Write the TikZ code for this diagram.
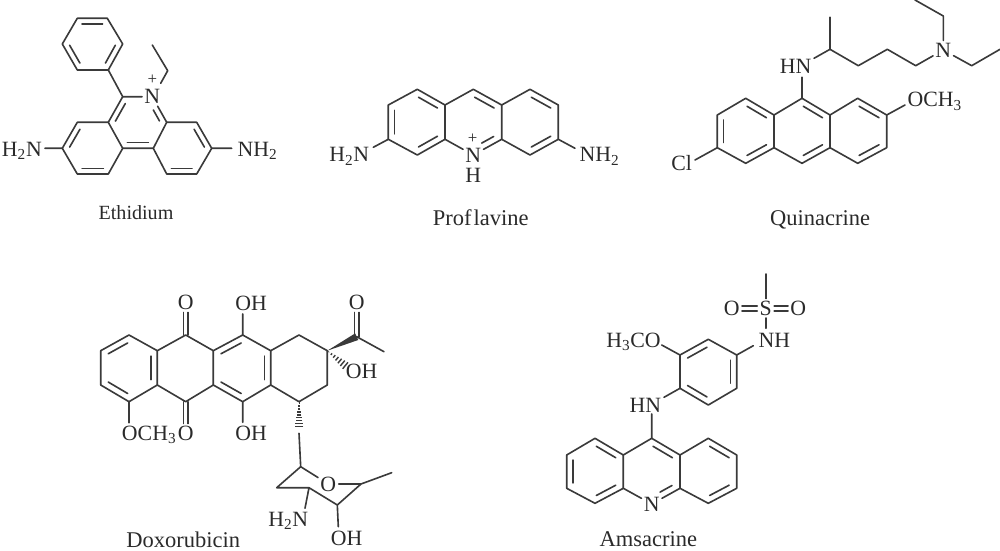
\documentclass[tikz,border=0pt]{standalone}
\usepackage{fontspec}
\setmainfont{Liberation Serif}
\usetikzlibrary{calc}
\definecolor{ink}{HTML}{3A3A3A}
\definecolor{tink}{HTML}{2A2A2A}
\tikzset{
  bondline/.style={draw=ink,line width=1.15pt,line cap=round,line join=round},
  hashline/.style={draw=ink,line width=1pt},
  atom/.style={inner sep=1.5pt,text=tink,font=\fontsize{15.5}{16}\selectfont},
  grp/.style={inner sep=0pt,anchor=base west,text=tink,font=\fontsize{15.5}{16}\selectfont},
  plus/.style={inner sep=0pt,text=tink,font=\fontsize{12}{12}\selectfont},
  caption/.style={inner sep=0pt,anchor=base,text=tink,font=\fontsize{16}{16}\selectfont}
}
\newcommand\subn[1]{\textsubscript{#1}}
\newcommand\inbx[5]{\draw[bondline] ($($(#1)!#4!(#2)$)!.22!(#3)$) -- ($($(#1)!#5!(#2)$)!.22!(#3)$);}
\newcommand\inb[3]{\inbx{#1}{#2}{#3}{.06}{.94}}
\newcommand\twin[4]{\draw[bondline] ($(#1)+(#3,#4)$) -- ($(#2)+(#3,#4)$) ($(#1)-(#3,#4)$) -- ($(#2)-(#3,#4)$);}
\newcommand\hashb[4]{\foreach \i in {1,...,#3}{%
  \pgfmathsetmacro\f{(\i-.5)/#3}\pgfmathsetmacro\hw{#4*\f}%
  \path ($(#1)!\f!(#2)$) coordinate (hp);
  \draw[hashline] ($(hp)!\hw pt!90:(#2)$) -- ($(hp)!\hw pt!-90:(#2)$);}}
\begin{document}
\begin{tikzpicture}[x=0.025cm,y=-0.025cm]
\useasboundingbox (0,0) rectangle (1000,551);
% ---------- Ethidium
\foreach \n/\x/\y in {p1/77.3/18.3,p2/107.3/18.3,p3/122.7/44,p4/108.3/70,p5/77.3/70,p6/62.3/44,pc/92.3/44,
  ec6/122.7/96.7,ea/108.3/122.3,eb/77.3/122.3,ec/62.3/148.3,ed/77.3/174,ee/108.3/174,ef/122.7/148.3,
  eg/153.3/148.3,eh/166.7/122.3,ei/196.7/122.3,ej/211.7/148.3,ek/196.7/174,el/166.7/174,
  elc/92.5/148.3,emc/137.5/122.5,erc/181.7/148.3,
  ee1/160.7/83.3,ee2/167.7/70.7,ee3/152.3/45,
  en1/45/148.3,en2/231.7/148.3}{\coordinate (\n) at (\x,\y);}
\node[atom] (eN) at (152.3,96.7) {N};
\node[plus] (ep) at (152.3,80) {+};
\node[grp] (eH2N) at (1.7,156.7) {H\subn{2}N};
\node[grp] (eNH2) at (237.3,156.7) {NH\subn{2}};
\node[caption,font=\fontsize{14.3}{15}\selectfont] (ecap) at (136,219.5) {Ethidium};
\draw[bondline] (p1)--(p2)--(p3)--(p4)--(p5)--(p6)--cycle;
\inb{p1}{p2}{pc}\inb{p3}{p4}{pc}\inb{p5}{p6}{pc}
\draw[bondline] (p4)--(ec6)--(eN) (ec6)--(ea)--(eb)--(ec)--(ed)--(ee)--(ef)--(ea) (ef)--(eg)--(eh)--(ei)--(ej)--(ek)--(el)--(eg) (eN)--(eh);
\draw[bondline] (ee1)--(ee2)--(ee3) (en1)--(ec) (ej)--(en2);
\inb{ec6}{ea}{emc}\inb{eb}{ec}{elc}\inb{ed}{ee}{elc}\inb{ef}{eg}{emc}\inb{ei}{ej}{erc}\inb{ek}{el}{erc}
\inbx{eN}{eh}{emc}{.38}{.93}
% ---------- Proflavine
\foreach \n/\x/\y in {fa/388.3/105,fb/417.3/89.3,fc/445/105,fd/473.3/89.3,fe/501.7/105,ff/530/89.3,fg/558.3/105,
  fh/558.3/139.3,fi/530/155,fj/501.7/139.3,fk/445/139.3,fl/417.3/155,fm/388.3/139.3,
  flc/416.7/122,fmc/473.3/122,frc/530/122,fn1/373.3/147.3,fn2/575/148.3}{\coordinate (\n) at (\x,\y);}
\node[atom] (fN) at (473.3,155) {N};
\node[plus] (fp) at (472.7,138.3) {+};
\node[atom] (fH) at (473.3,175.7) {H};
\node[grp] (fH2N) at (329,162) {H\subn{2}N};
\node[grp] (fNH2) at (579.3,162) {NH\subn{2}};
\node[caption] (fcap) at (480.7,226) {Prof\kern1.5pt lavine};
\draw[bondline] (fa)--(fb)--(fc)--(fd)--(fe)--(ff)--(fg)--(fh)--(fi)--(fj)--(fe) (fc)--(fk)--(fl)--(fm)--(fa) (fk)--(fN) (fj)--(fN) (fn1)--(fm) (fh)--(fn2);
\inb{fa}{fm}{flc}\inb{fb}{fc}{flc}\inb{fl}{fk}{flc}\inb{fd}{fe}{fmc}\inb{ff}{fg}{frc}\inb{fi}{fh}{frc}
\inbx{fN}{fj}{fmc}{.38}{.92}
% ---------- Quinacrine
\foreach \n/\x/\y in {qa/717.3/115,qb/745.7/98.3,qc/774/115,qd/802/98.3,qe/830/115,qf/857.7/98.3,qg/886.7/115,
  qh/886.7/147.7,qi/857.7/163.3,qj/830/147.7,qk/802/163.3,ql/774/147.7,qm/745.7/163.3,qn/717.3/147.7,
  qlc/745.7/131,qmc/802/131,qrc/858/131,
  qx1/695/160,qx2/802/77.3,qx3/814/58.3,qx4/830/49.3,qx5/858.3/65.7,qx6/887.3/49.3,qx7/915.7/65.7,
  qme/830/17.3,qu2/943.3/16,qu3/915/0,qr2/971.7/65.7,qr3/1000/49.3,qo/905/105}{\coordinate (\n) at (\x,\y);}
\node[atom] (qN) at (943.3,50) {N};
\node[grp] (qCl) at (671,171) {Cl};
\node[grp] (qHN) at (779.5,73.7) {HN};
\node[grp] (qOMe) at (907.3,107) {OCH\subn{3}};
\node[caption] (qcap) at (820,226) {Quinacrine};
\draw[bondline] (qa)--(qb)--(qc)--(qd)--(qe)--(qf)--(qg)--(qh)--(qi)--(qj)--(qk)--(ql)--(qm)--(qn)--(qa) (qc)--(ql) (qe)--(qj);
\draw[bondline] (qx1)--(qn) (qd)--(qx2) (qx3)--(qx4)--(qx5)--(qx6)--(qx7)--(qN) (qx4)--(qme) (qN)--(qu2)--(qu3) (qN)--(qr2)--(qr3) (qg)--(qo);
\inb{qa}{qn}{qlc}\inb{qb}{qc}{qlc}\inb{qm}{ql}{qlc}\inb{qd}{qe}{qmc}\inb{qk}{qj}{qmc}\inb{qf}{qg}{qrc}\inb{qi}{qh}{qrc}
% ---------- Doxorubicin
\foreach \n/\x/\y in {da/100.7/350.7,db/129/335,dc/157.3/350.7,dd/157.3/385,de/129/401.7,df/100.7/385,
  dg/185.7/335,dh/213.3/350.7,di/213.3/385,dj/185.7/401.7,dk/242.7/335,dl/270.7/350.7,dm/270.7/385,dn/242.7/401.7,
  dp/299/335,dq/327.3/350.7,dr/327.3/385,ds/299/401.7,
  dlc/129/368,dc2/185.7/368,dmc/242/368,
  dacC/356.7/336.7,dacM/384/351.7,dohT/242.7/314,dohB/242.7/422.3,dome/129/422.7,
  dhash/346.7/366.7,dhd/299/428,dlk/299/433.3,
  sa/300.7/466.7,sb/276.7/487.7,sc/309/487.7,sd/337.3/505,se/361/484,sf/391.7/472.7,
  sn/305/508.3,soh/338.3/526.7}{\coordinate (\n) at (\x,\y);}
\node[atom] (dO1) at (185.7,302.7) {O};
\node[atom] (dO2) at (185.7,433.3) {O};
\node[atom] (dO3) at (356.7,302.7) {O};
\node[atom] (sO) at (328.3,484) {O};
\node[grp] (dOH1) at (235,310.3) {OH};
\node[grp] (dOH2) at (235,440.3) {OH};
\node[grp] (dOH3) at (345.7,378.7) {OH};
\node[grp] (dOMe) at (121.7,440.3) {OCH\subn{3}};
\node[grp] (sH2N) at (268,526.3) {H\subn{2}N};
\node[grp] (sOH) at (330.7,545.3) {OH};
\node[caption] (dcap) at (183.3,547.5) {Doxorubicin};
\draw[bondline] (da)--(db)--(dc)--(dd)--(de)--(df)--cycle (dc)--(dg)--(dh)--(di)--(dj)--(dd) (dh)--(dk)--(dl)--(dm)--(dn)--(di) (dl)--(dp)--(dq)--(dr)--(ds)--(dm);
\inb{da}{db}{dlc}\inb{df}{de}{dlc}\inb{dc}{dd}{dlc}\inb{dh}{dk}{dmc}\inb{di}{dn}{dmc}\inb{dl}{dm}{dmc}
\twin{dg}{dO1.south}{2.3}{0}\twin{dj}{dO2.north}{2.3}{0}\twin{dacC}{dO3.south}{2.3}{0}
\draw[bondline] (dk)--(dohT) (dn)--(dohB) (de)--(dome) (dacC)--(dacM);
\fill[ink] (dq) -- ($(dacC)!2.6pt!90:(dq)$) -- ($(dacC)!2.6pt!-90:(dq)$) -- cycle;
\hashb{dq}{dhash}{7}{3.2}
\hashb{ds}{dhd}{9}{3.2}
\draw[bondline] (dlk)--(sa)--(sO) (sa)--(sb)--(sc)--(sd)--(se)--(sO) (se)--(sf) (sc)--(sn) (sd)--(soh);
% ---------- Amsacrine
\foreach \n/\x/\y in {ama/680/355,amb/708.3/339.3,amc/736.7/355,amd/736.7/388.3,ame/708.3/405,amf/680/388.3,amrc/708.3/372,
  ax/566.7/455,bx/595/438.3,cx/623.3/455,dx/651.7/438.3,ex/680/455,fx/708.3/438.3,gx/736.7/455,
  hx/736.7/488.3,ix/708.3/503.3,jx/680/488.3,kx/623.3/488.3,lx/595/503.3,mx/566.7/488.3,
  alc/595/471,amm/651.7/471,arc/708.3/471,
  ame1/765.7/274,as2/765.7/328.3,ann/753.3/345.7,aoo/661.7/345,ahn/664/397.3,ahd/651.7/414}{\coordinate (\n) at (\x,\y);}
\node[atom] (aS) at (765.7,308.3) {S};
\node[atom] (aOl) at (731.7,308.3) {O};
\node[atom] (aOr) at (798.3,308.3) {O};
\node[atom] (aN) at (651.7,504) {N};
\node[grp] (aNH) at (758.3,347) {NH};
\node[grp] (aOMe) at (606,347) {H\subn{3}CO};
\node[grp] (aHN) at (629.3,412) {HN};
\node[caption] (acap) at (648.3,546) {Amsacrine};
\draw[bondline] (ama)--(amb)--(amc)--(amd)--(ame)--(amf)--cycle (amc)--(ann) (ama)--(aoo) (amf)--(ahn) (ahd)--(dx);
\inb{ama}{amb}{amrc}\inb{amc}{amd}{amrc}\inb{ame}{amf}{amrc}
\draw[bondline] (ax)--(bx)--(cx)--(dx)--(ex)--(fx)--(gx)--(hx)--(ix)--(jx)--(ex) (cx)--(kx)--(lx)--(mx)--(ax) (kx)--(aN) (jx)--(aN);
\inb{ax}{mx}{alc}\inb{bx}{cx}{alc}\inb{lx}{kx}{alc}\inb{dx}{ex}{amm}\inb{fx}{gx}{arc}\inb{ix}{hx}{arc}
\inbx{aN}{jx}{amm}{.38}{.92}
\draw[bondline] (ame1)--(aS) (aS)--(as2);
\twin{aS.west}{aOl.east}{0}{2.4}\twin{aS.east}{aOr.west}{0}{2.4}
\end{tikzpicture}
\end{document}
